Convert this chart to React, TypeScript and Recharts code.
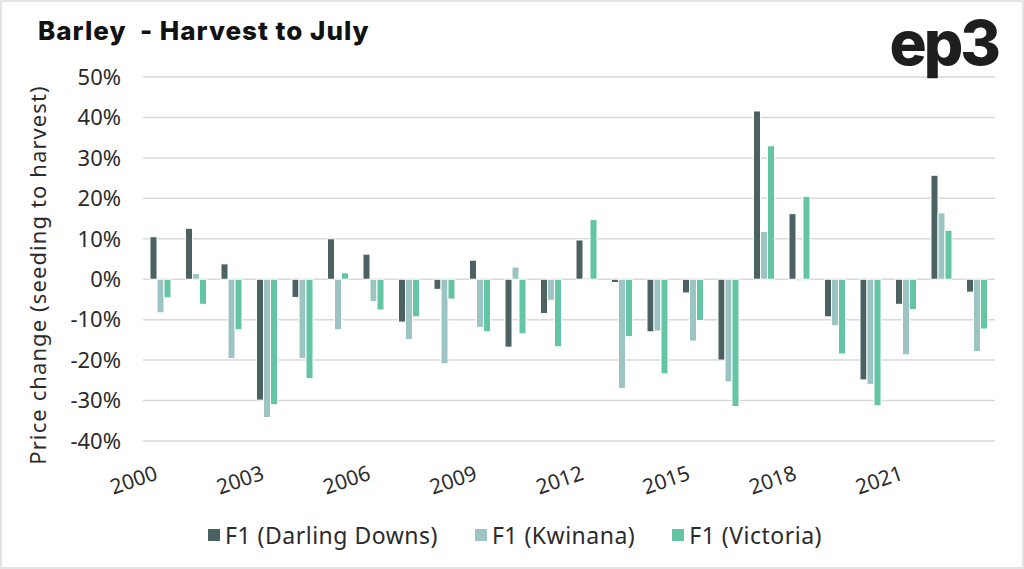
import React from "react";
import { BarChart, Bar, XAxis, YAxis, CartesianGrid } from "recharts";

const years = [
  "2000", "2001", "2002", "2003", "2004", "2005", "2006", "2007",
  "2008", "2009", "2010", "2011", "2012", "2013", "2014", "2015",
  "2016", "2017", "2018", "2019", "2020", "2021", "2022", "2023",
];

const darlingDowns = [
  10.5, 12.6, 3.8, -29.9, -4.5, 10.0, 6.2, -10.6,
  -2.5, 4.7, -16.8, -8.5, 9.7, -0.8, -13.0, -3.4,
  -20.0, 41.6, 16.2, -9.3, -24.9, -6.2, 25.7, -3.2,
];

const kwinana = [
  -8.3, 1.4, -19.6, -34.2, -19.6, -12.5, -5.5, -14.9,
  -20.9, -11.9, 3.0, -5.2, 0.3, -27.0, -12.8, -15.3,
  -25.4, 11.8, -0.4, -11.5, -26.0, -18.7, 16.4, -17.9,
];

const victoria = [
  -4.6, -6.2, -12.5, -31.0, -24.6, 1.6, -7.6, -9.3,
  -4.9, -13.0, -13.5, -16.7, 14.8, -14.2, -23.4, -10.2,
  -31.5, 33.0, 20.5, -18.5, -31.3, -7.5, 12.1, -12.3,
];

const yTicks = [-40, -30, -20, -10, 0, 10, 20, 30, 40, 50];

const series = [
  { key: "dd", name: "F1 (Darling Downs)", color: "#4c6161" },
  { key: "kw", name: "F1 (Kwinana)", color: "#9bc4c2" },
  { key: "vic", name: "F1 (Victoria)", color: "#64c5a5" },
];

const data = years.map((year, i) => ({
  year,
  dd: darlingDowns[i],
  kw: kwinana[i],
  vic: victoria[i],
}));

const FONT = "'Noto Sans', sans-serif";
const TEXT = "#2b2b2b";

const XTick = ({ x, y, payload }: any) => {
  const ax = x - 2;
  const ay = y + 30;
  return (
    <text
      x={ax}
      y={ay}
      transform={`rotate(-19, ${ax}, ${ay})`}
      textAnchor="end"
      fontFamily={FONT}
      fontSize={21}
      fill={TEXT}
    >
      {payload.value}
    </text>
  );
};

export default function App() {
  return (
    <div
      style={{
        position: "absolute",
        left: 0,
        top: 0,
        width: 1024,
        height: 569,
        background: "#fff",
        border: "2px solid #e3e3e3",
        boxSizing: "border-box",
        overflow: "hidden",
      }}
    >
      <div style={{ position: "absolute", left: -2, top: -2 }}>
        <BarChart
          width={1024}
          height={569}
          data={data}
          margin={{ top: 77, right: 29, bottom: 88, left: 0 }}
          barGap={0}
          barSize={7}
        >
          <CartesianGrid vertical={false} stroke="#d9d9d9" strokeWidth={1.5} />
          <XAxis
            dataKey="year"
            interval={2}
            tickLine={false}
            axisLine={false}
            height={40}
            tick={<XTick />}
          />
          <YAxis
            width={143}
            domain={[-40, 50]}
            ticks={yTicks}
            tickFormatter={(v) => `${v}%`}
            tickLine={false}
            axisLine={false}
            tickMargin={16}
            tick={{ fontFamily: FONT, fontSize: 22, fill: TEXT }}
          />
          {series.map((s) => (
            <Bar
              key={s.key}
              dataKey={s.key}
              name={s.name}
              fill={s.color}
              stroke="#ffffff"
              strokeWidth={1}
              isAnimationActive={false}
            />
          ))}
        </BarChart>
      </div>

      <svg
        width={1024}
        height={569}
        style={{ position: "absolute", left: -2, top: -2, pointerEvents: "none" }}
      >
        <text
          x={38}
          y={40}
          fontFamily="Inter, sans-serif"
          fontWeight={800}
          fontSize={26}
          letterSpacing={1}
          fill="#111"
        >
          {"Barley\u00a0\u00a0- Harvest to July"}
        </text>
        <text
          x={998}
          y={65}
          textAnchor="end"
          fontFamily="Inter, sans-serif"
          fontWeight={800}
          fontSize={62}
          letterSpacing={-3}
          fill="#1e1e1e"
        >
          ep3
        </text>
        <text
          x={46}
          y={275}
          transform="rotate(-90, 46, 275)"
          textAnchor="middle"
          fontFamily={FONT}
          fontSize={22}
          letterSpacing={1.1}
          fill={TEXT}
        >
          Price change (seeding to harvest)
        </text>
      </svg>

      <div
        style={{
          position: "absolute",
          left: -2,
          top: 517,
          width: 1024,
          paddingLeft: 6,
          boxSizing: "border-box",
          display: "flex",
          justifyContent: "center",
          gap: 37,
          fontFamily: FONT,
          fontSize: 23,
          letterSpacing: 0.5,
          color: TEXT,
        }}
      >
        {series.map((s) => (
          <div key={s.key} style={{ display: "flex", alignItems: "center" }}>
            <span
              style={{
                display: "inline-block",
                width: 12,
                height: 12,
                background: s.color,
                marginRight: 5,
              }}
            />
            <span>{s.name}</span>
          </div>
        ))}
      </div>
    </div>
  );
}
